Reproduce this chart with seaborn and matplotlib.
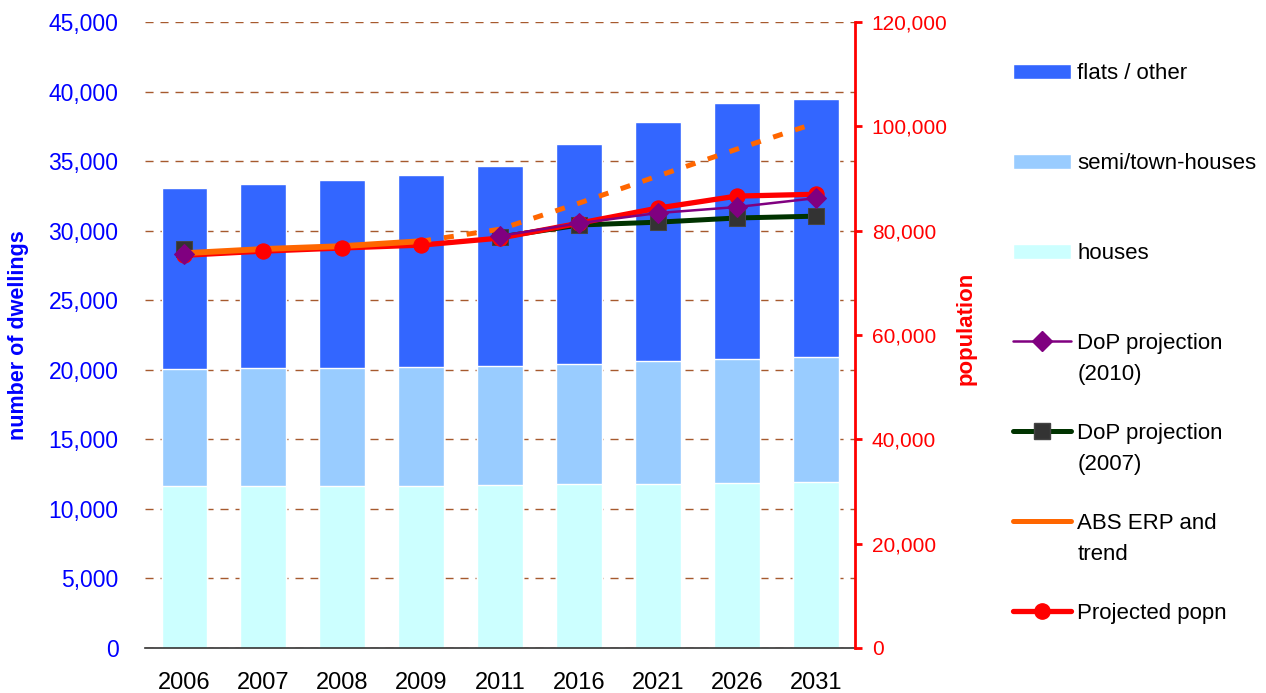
import matplotlib
matplotlib.use("Agg")
import matplotlib.pyplot as plt
import matplotlib.ticker as mticker
from matplotlib.patches import Patch
from matplotlib.lines import Line2D
import numpy as np
import pandas as pd
import seaborn as sns

# dwellings by type (stacked bars, left axis)
years = ["2006", "2007", "2008", "2009", "2011", "2016", "2021", "2026", "2031"]
houses = [11650, 11650, 11650, 11650, 11720, 11790, 11790, 11860, 11930]
semi = [8410, 8480, 8480, 8550, 8550, 8630, 8840, 8910, 8990]
flats = [13010, 13230, 13510, 13800, 14380, 15820, 17180, 18400, 18550]

# population series (right axis), nan = no point for that year
nan = np.nan
proj_popn = [75300, 76100, 76700, 77250, 78600, 81450, 84350, 86650, 87000]
dop_2010 = [75500, nan, nan, nan, 79000, 81450, 83400, 84550, 86250]
dop_2007 = [76500, nan, nan, nan, 78800, 81100, 81650, 82450, 82800]
abs_erp = [75700, 76500, 77050, 78000, nan, nan, nan, nan, nan]
abs_trend = [nan, nan, nan, 78000, 80300, 85300, 90500, 95650, 100650]

c_flats = "#3366FF"
c_semi = "#99CCFF"
c_houses = "#CCFFFF"
c_grid = "#A65A2E"

sns.set_style("white")
plt.rcParams["font.family"] = ["Liberation Sans", "DejaVu Sans"]
plt.rcParams["text.color"] = "black"

fig = plt.figure(figsize=(12.66, 6.93), dpi=100)
ax = fig.add_axes([0.1145, 0.065, 0.561, 0.903])

bars = pd.DataFrame({"year": years, "houses": houses, "semi": semi, "flats": flats})
bars["semi_top"] = bars["houses"] + bars["semi"]
bars["total"] = bars["semi_top"] + bars["flats"]

# stacked look: draw the tallest first and overlay the lower parts
for col, c in [("total", c_flats), ("semi_top", c_semi), ("houses", c_houses)]:
    sns.barplot(data=bars, x="year", y=col, color=c, saturation=1, width=0.58,
                ax=ax, zorder=2)

ax.set_ylim(0, 45000)
ax.set_xlim(-0.5, 8.5)
ax.yaxis.set_major_locator(mticker.MultipleLocator(5000))
ax.yaxis.set_major_formatter(mticker.StrMethodFormatter("{x:,.0f}"))
ax.grid(axis="y", color=c_grid, lw=1.0, linestyle=(0, (5.8, 5)), zorder=0)
ax.set_axisbelow(True)
ax.tick_params(axis="y", length=0, pad=19, labelsize=16.5, labelcolor="#0000FF")
ax.tick_params(axis="x", length=0, pad=17, labelsize=17, labelcolor="black")
for s in ["top", "left", "right"]:
    ax.spines[s].set_visible(False)
ax.spines["bottom"].set_color("#333333")
ax.spines["bottom"].set_linewidth(1.2)
ax.set_xlabel("")
ax.set_ylabel("number of dwellings", color="#0000FF", fontsize=15.5, fontweight="bold")
ax.yaxis.set_label_coords(-0.163, 0.5)

# population on the twin axis
ax2 = ax.twinx()
pop = pd.DataFrame({"pos": np.arange(len(years)), "proj": proj_popn, "d2010": dop_2010,
                    "d2007": dop_2007, "erp": abs_erp, "trend": abs_trend})

def draw(col, **kw):
    # one lineplot per unbroken run so gaps stay gaps
    ok = pop[col].notna()
    runs = pop[col].isna().cumsum()[ok]
    for _, sub in pop.loc[ok, ["pos", col]].groupby(runs):
        sns.lineplot(data=sub, x="pos", y=col, ax=ax2, legend=False, **kw)

draw("d2007", color="#003300", lw=3.6, marker="s", markersize=11,
     markerfacecolor="#333333", markeredgecolor="#444444", zorder=3)
draw("proj", color="#FF0000", lw=3.8, zorder=3.5)
draw("erp", color="#FF6600", lw=4.2, zorder=4)
draw("trend", color="#FF6600", lw=3.6, linestyle=(0, (2, 2.6)), zorder=4)
# red markers sit above the orange line
draw("proj", color="#FF0000", lw=0, marker="o", markersize=11,
     markeredgecolor="#FF0000", zorder=5)
draw("d2010", color="#800080", lw=1.8, marker="D", markersize=10,
     markeredgecolor="#800080", zorder=6)

ax2.set_ylim(0, 120000)
ax2.set_xlim(-0.5, 8.5)
ax2.yaxis.set_major_locator(mticker.MultipleLocator(20000))
ax2.yaxis.set_major_formatter(mticker.StrMethodFormatter("{x:,.0f}"))
ax2.tick_params(axis="y", length=5, width=2, color="#FF0000", direction="out",
                pad=7, labelsize=15, labelcolor="#FF0000")
for s in ["top", "left", "bottom"]:
    ax2.spines[s].set_visible(False)
ax2.spines["right"].set_color("#FF0000")
ax2.spines["right"].set_linewidth(2)
ax2.set_xlabel("")
ax2.set_ylabel("population", color="#FF0000", fontsize=16, fontweight="bold")
ax2.yaxis.set_label_coords(1.142, 0.51)

# legend: one entry per box so the spacing follows the reference
legend_items = [
    (Patch(facecolor=c_flats), "flats / other", None, 0.894),
    (Patch(facecolor=c_semi), "semi/town-houses", None, 0.764),
    (Patch(facecolor=c_houses), "houses", None, 0.634),
    (Line2D([], [], color="#800080", lw=1.8, marker="D", markersize=10),
     "DoP projection", "(2010)", 0.5045),
    (Line2D([], [], color="#003300", lw=3.6, marker="s", markersize=11,
            markerfacecolor="#333333", markeredgecolor="#444444"),
     "DoP projection", "(2007)", 0.3746),
    (Line2D([], [], color="#FF6600", lw=3.6, solid_capstyle="round"),
     "ABS ERP and", "trend", 0.2448),
    (Line2D([], [], color="#FF0000", lw=3.8, marker="o", markersize=11),
     "Projected popn", None, 0.115),
]
for h, lab, lab2, yy in legend_items:
    fig.legend(handles=[h], labels=[lab], loc="center left", bbox_to_anchor=(0.8, yy),
               frameon=False, fontsize=16, handlelength=2.6, handleheight=0.65,
               handletextpad=0.3, borderpad=0, borderaxespad=0, labelcolor="black")
    if lab2:
        fig.text(0.8509, yy - 0.045, lab2, fontsize=16, va="center", ha="left",
                 color="black")

fig.savefig("out.png", dpi=100)
